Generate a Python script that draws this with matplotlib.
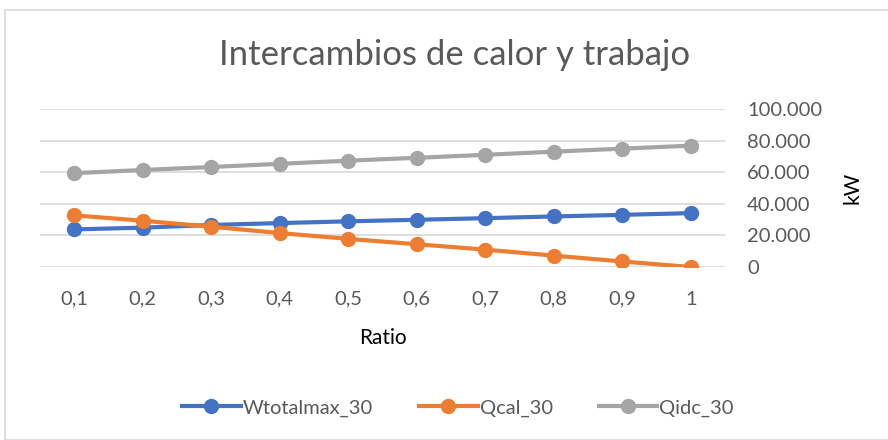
import matplotlib.pyplot as plt
from matplotlib.ticker import FuncFormatter
from matplotlib.patches import Rectangle

plt.rcParams['font.family'] = ['Lato', 'DejaVu Sans']

ratio = ["0,1", "0,2", "0,3", "0,4", "0,5", "0,6", "0,7", "0,8", "0,9", "1"]
wtotalmax_30 = [23800, 24900, 26600, 27800, 28900, 29900, 30900, 32000, 33000, 34100]
qcal_30 = [32700, 29300, 25500, 21500, 17800, 14400, 11000, 7200, 3500, 0]
qidc_30 = [59400, 61400, 63300, 65300, 67300, 69100, 71000, 73000, 74900, 76800]

txt = '#595959'

fig = plt.figure(figsize=(8.88, 4.4), dpi=100)
fig.patches.append(Rectangle((5/888, 0), 1.0, 1 - 10/440, transform=fig.transFigure,
                             fill=False, edgecolor='#d9d9d9', linewidth=1.2))
ax = fig.add_axes([40/888, 1 - 267/440, 685/888, 158/440])

x = list(range(1, len(ratio) + 1))
ax.plot(x, wtotalmax_30, color='#4472c4', lw=3, marker='o', ms=10, label='Wtotalmax_30', zorder=3)
ax.plot(x, qcal_30, color='#ed7d31', lw=3, marker='o', ms=10, label='Qcal_30', zorder=4)
ax.plot(x, qidc_30, color='#a5a5a5', lw=3, marker='o', ms=10, label='Qidc_30', zorder=3)

ax.set_xlim(0.5, 10.5)
ax.set_ylim(0, 100000)
ax.set_yticks(range(0, 100001, 20000))
ax.yaxis.set_major_formatter(FuncFormatter(lambda v, p: f"{int(v):,}".replace(",", ".")))
ax.yaxis.tick_right()
ax.set_xticks(x)
ax.set_xticklabels(ratio)
ax.tick_params(axis='both', length=0, labelsize=14.5, colors=txt)
ax.tick_params(axis='x', pad=17)
ax.tick_params(axis='y', pad=16)
for lbl in ax.get_yticklabels():
    lbl.set_horizontalalignment('left')
ax.grid(axis='y', color='#d9d9d9', lw=1.2)
for s in ax.spines.values():
    s.set_visible(False)

ax.set_xlabel('Ratio', fontsize=15, color='black', labelpad=15)
fig.text(852/888, 1 - 188/440, 'kW', rotation=90, fontsize=15, ha='center', va='center')
fig.text(455/888, 1 - 55/440, 'Intercambios de calor y trabajo', fontsize=25,
         color=txt, ha='center', va='center')

fig.legend(loc='center', bbox_to_anchor=(458/888, 1 - 408/440), ncol=3, frameon=False,
           fontsize=14.5, labelcolor=txt, handlelength=2.9, columnspacing=2.3, handletextpad=0.1)

fig.savefig('out.png', dpi=100)
